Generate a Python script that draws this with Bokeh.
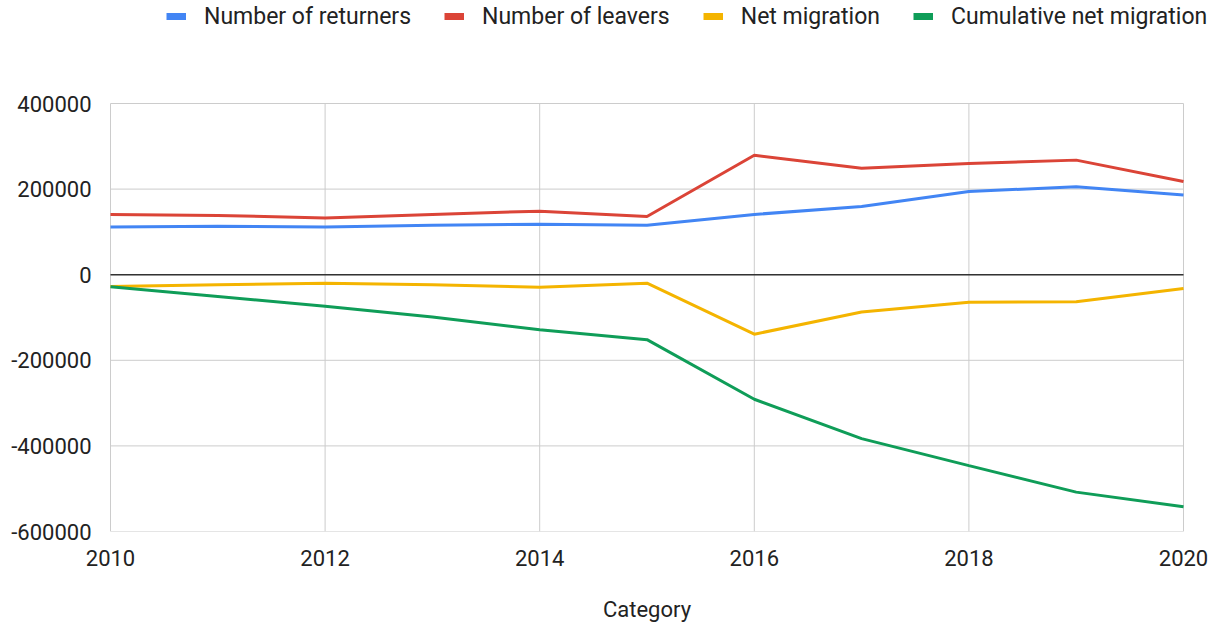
from bokeh.plotting import figure
from bokeh.models import Range1d, FixedTicker, Legend, LegendItem
from bokeh.embed import file_html
from bokeh.resources import INLINE

years = [2010, 2011, 2012, 2013, 2014, 2015, 2016, 2017, 2018, 2019, 2020]
returners = [111500, 113000, 111500, 115400, 117700, 115400, 140800, 159200, 194600, 205400, 186200]
leavers = [140800, 138500, 132300, 140800, 148500, 136000, 279000, 248500, 260000, 267700, 217700]
net_migration = [-27700, -23700, -19800, -23700, -29200, -19800, -139000, -87000, -64500, -63000, -32500]
cumulative = [-28000, -51000, -73500, -98800, -128800, -151800, -291000, -383000, -446000, -508000, -542000]

x_ticks = [2010, 2012, 2014, 2016, 2018, 2020]
y_ticks = [-600000, -400000, -200000, 0, 200000, 400000]

series = [
    ("Number of returners", returners, "#4285F4"),
    ("Number of leavers", leavers, "#DB4437"),
    ("Net migration", net_migration, "#F4B400"),
    ("Cumulative net migration", cumulative, "#0F9D58"),
]

FONT = "Roboto"
TXT = "#222222"
FS = "22px"

W, H = 1211, 626
PLOT_L, PLOT_R, PLOT_T, PLOT_B = 110, 1183, 103, 531   # plotting area in canvas pixels
FRAME_L = 2 * (PLOT_L + PLOT_R) / 2 - W                # frame centred on plotting area
FRAME_L = int(round(FRAME_L))

x0, x1 = x_ticks[0], x_ticks[-1]
y0, y1 = y_ticks[0], y_ticks[-1]
px_x = (PLOT_R - PLOT_L) / (x1 - x0)
x_start = x0 - (PLOT_L - FRAME_L) / px_x
x_end = x1 + (W - PLOT_R) / px_x
frame_h = PLOT_B
y_end = y0 + (y1 - y0) * frame_h / (PLOT_B - PLOT_T)

p = figure(width=W, height=H, output_backend="svg", toolbar_location=None,
           x_range=Range1d(x_start, x_end), y_range=Range1d(y0, y_end),
           min_border_left=FRAME_L, min_border_right=0, min_border_top=0,
           min_border_bottom=H - PLOT_B)
p.outline_line_color = None
p.background_fill_color = "white"
p.xgrid.visible = False
p.ygrid.visible = False

for ax in (p.xaxis[0], p.yaxis[0]):
    ax.axis_line_color = None
    ax.major_tick_line_color = None
    ax.minor_tick_line_color = None
    ax.major_label_text_font = FONT
    ax.major_label_text_font_size = FS
    ax.major_label_text_color = TXT

p.xaxis[0].ticker = FixedTicker(ticks=x_ticks)
p.xaxis[0].major_label_overrides = {t: str(t) for t in x_ticks}
p.xaxis[0].major_label_standoff = 12
p.xaxis[0].axis_label = "Category"
p.xaxis[0].axis_label_text_font = FONT
p.xaxis[0].axis_label_text_font_size = FS
p.xaxis[0].axis_label_text_font_style = "normal"
p.xaxis[0].axis_label_text_color = TXT
p.xaxis[0].axis_label_standoff = 28

p.yaxis[0].ticker = FixedTicker(ticks=y_ticks)
p.yaxis[0].major_label_overrides = {t: str(t) for t in y_ticks}
p.yaxis[0].major_label_standoff = FRAME_L - 97

# grid lines limited to the plotting area
p.segment(x0=x_ticks, y0=[y0] * len(x_ticks), x1=x_ticks, y1=[y1] * len(x_ticks),
          line_color="#cccccc", line_width=1)
p.segment(x0=[x0] * len(y_ticks), y0=y_ticks, x1=[x1] * len(y_ticks), y1=y_ticks,
          line_color="#cccccc", line_width=1)
p.segment(x0=[x0], y0=[0], x1=[x1], y1=[0], line_color="#333333", line_width=1.5)

items = []
for name, vals, color in series:
    p.line(years, vals, line_color=color, line_width=3)
    dummy = p.line(x=[float("nan")], y=[float("nan")], line_color=color, line_width=7)
    items.append(LegendItem(label=name, renderers=[dummy]))

legend = Legend(items=items, orientation="horizontal", location=(166 - FRAME_L, frame_h - 31),
                border_line_color=None, background_fill_alpha=0,
                padding=0, margin=0, spacing=33, glyph_width=20, glyph_height=30,
                label_standoff=18, label_height=30,
                label_text_font=FONT, label_text_font_size="23px", label_text_color=TXT)
p.add_layout(legend, "center")

open("out.html", "w").write(file_html(p, INLINE))
